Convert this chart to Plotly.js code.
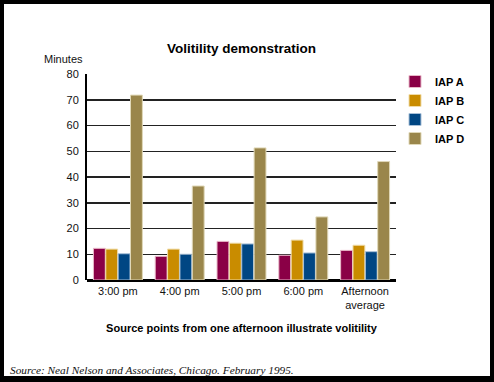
<!DOCTYPE html>
<html>
<head>
<meta charset="utf-8">
<script src="https://cdn.plot.ly/plotly-3.0.1.min.js"></script>
<style>
  html, body { margin: 0; padding: 0; background: #000; width: 494px; height: 382px; overflow: hidden; }
  #chart { position: absolute; left: 4px; top: 4px; width: 486px; height: 372px; background: #fff; }
</style>
</head>
<body>
<div id="chart"></div>
<script>
const categories = ["3:00 pm", "4:00 pm", "5:00 pm", "6:00 pm", "Afternoon<br>average"];
const seriesNames = ["IAP A", "IAP B", "IAP C", "IAP D"];
const iapA = [12.3, 9.2, 15.0, 9.6, 11.5];
const iapB = [12.0, 12.0, 14.3, 15.5, 13.5];
const iapC = [10.2, 10.0, 14.0, 10.5, 11.0];
const iapD = [71.8, 36.5, 51.3, 24.5, 46.0];
const yTicks = [0, 10, 20, 30, 40, 50, 60, 70, 80];

const colors = ["#8a0046", "#c98c00", "#004683", "#9a864b"];
const edges = ["#e8b8c8", "#f0dca8", "#a8c0d8", "#e0d8b8"];
const values = [iapA, iapB, iapC, iapD];

const boldFont = "'Liberation Sans', Arial, sans-serif";

const traces = seriesNames.map((n, i) => ({
  type: "bar",
  name: n,
  x: categories,
  y: values[i],
  marker: { color: colors[i], line: { color: edges[i], width: 1 } },
  hoverinfo: "skip"
}));

const layout = {
  width: 486,
  height: 372,
  margin: { l: 83, r: 94, t: 70, b: 96, autoexpand: false },
  paper_bgcolor: "#fff",
  plot_bgcolor: "#fff",
  barmode: "group",
  bargap: 0.2,
  bargroupgap: 0.04,
  showlegend: true,
  legend: {
    xref: "container", yref: "container",
    x: 391 / 486, y: 1 - 63 / 372, xanchor: "left", yanchor: "top",
    font: { family: boldFont, size: 11, color: "#000", weight: "bold" },
    tracegroupgap: 0, itemwidth: 30, bgcolor: "rgba(0,0,0,0)"
  },
  title: {
    text: "<b>Volitility demonstration</b>",
    font: { family: boldFont, size: 13.5, color: "#000" },
    x: 0.5, xref: "paper", y: 1 - 44/372, yanchor: "middle"
  },
  xaxis: {
    tickvals: categories,
    ticktext: categories,
    tickfont: { family: "'Liberation Sans', Arial, sans-serif", size: 11, color: "#111" },
    showline: false, showgrid: false, ticks: "",
    zeroline: false, ticklabelstandoff: 3,
    fixedrange: true,
    title: {
      text: "<b>Source points from one afternoon illustrate volitility</b>",
      font: { family: boldFont, size: 11, color: "#000" },
      standoff: 14
    }
  },
  yaxis: {
    range: [0, 80],
    tickvals: yTicks,
    ticktext: yTicks.map(String),
    tickfont: { family: "'Liberation Sans', Arial, sans-serif", size: 11, color: "#111" },
    showgrid: true, gridcolor: "#222", gridwidth: 1.5,
    showline: true, linecolor: "#000", linewidth: 2,
    zeroline: true, zerolinecolor: "#000", zerolinewidth: 3,
    ticks: "", ticklabelstandoff: 4,
    fixedrange: true
  },
  annotations: [
    {
      text: "Minutes", xref: "paper", yref: "paper",
      x: -2/309, y: 1 + 15/206, xanchor: "right", yanchor: "middle",
      showarrow: false,
      font: { family: "'Liberation Sans', Arial, sans-serif", size: 11, color: "#111" }
    },
    {
      text: "<i>Source: Neal Nelson and Associates, Chicago. February 1995.</i>",
      xref: "paper", yref: "paper",
      x: -79/309, y: -(370 - 280)/206, xanchor: "left", yanchor: "middle",
      showarrow: false,
      font: { family: "'Liberation Serif', 'DejaVu Serif', serif", size: 11.3, color: "#111" }
    }
  ]
};

Plotly.newPlot("chart", traces, layout, { displayModeBar: false, staticPlot: true });
</script>
</body>
</html>
